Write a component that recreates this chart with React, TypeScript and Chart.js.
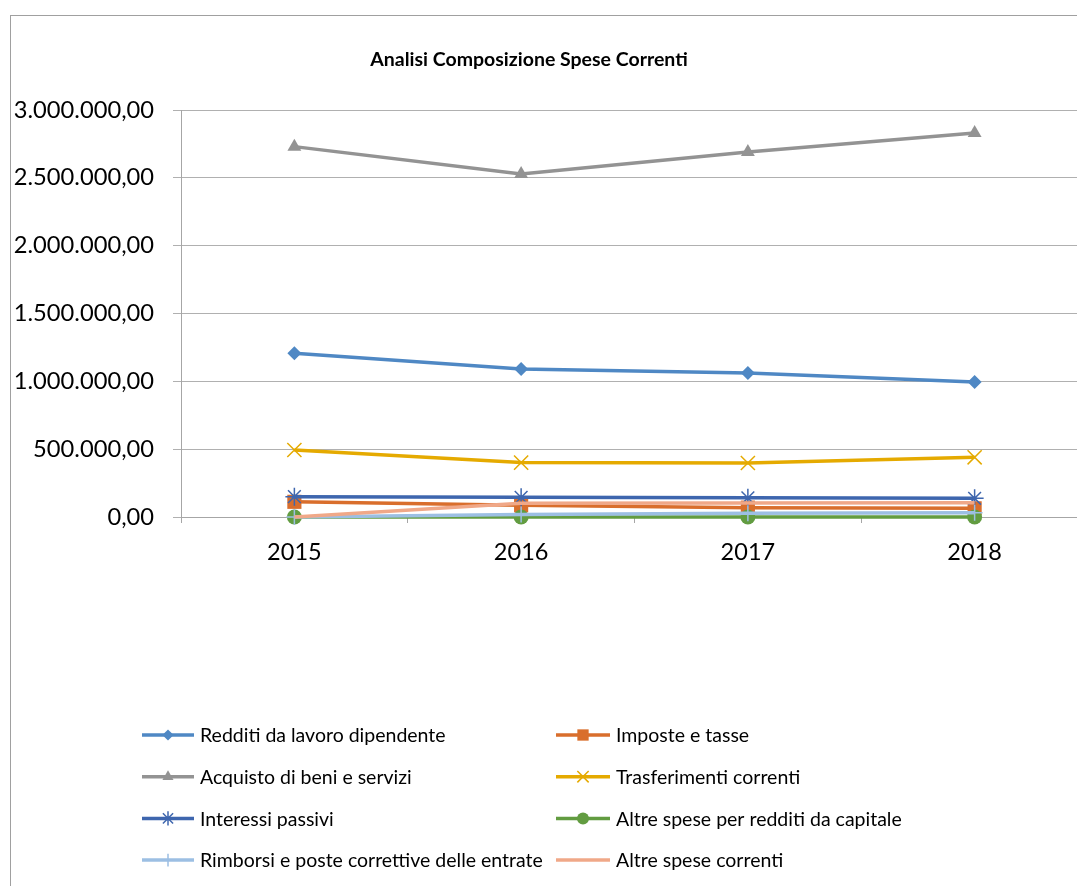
import React, { useEffect, useRef } from "react";
import { Chart, registerables } from "chart.js";
import { drawPoint } from "chart.js/helpers";

Chart.register(...registerables);

const categories = ["2015", "2016", "2017", "2018"];
const seriesNames = [
  "Redditi da lavoro dipendente",
  "Imposte e tasse",
  "Acquisto di beni e servizi",
  "Trasferimenti correnti",
  "Interessi passivi",
  "Altre spese per redditi da capitale",
  "Rimborsi e poste correttive delle entrate",
  "Altre spese correnti",
];
const redditiLavoro = [1207000, 1091000, 1061000, 995000];
const imposteTasse = [112000, 86000, 69000, 64000];
const acquistoBeni = [2730000, 2528000, 2690000, 2830000];
const trasferimenti = [494000, 401000, 398000, 440000];
const interessiPassivi = [150000, 145000, 141000, 138000];
const altreCapitale = [0, 0, 0, 0];
const rimborsi = [0, 18000, 28000, 32000];
const altreCorrenti = [0, 101000, 103000, 105000];
const yTicks = [0, 500000, 1000000, 1500000, 2000000, 2500000, 3000000];
const chartTitle = "Analisi Composizione Spese Correnti";

const seriesValues = [
  redditiLavoro,
  imposteTasse,
  acquistoBeni,
  trasferimenti,
  interessiPassivi,
  altreCapitale,
  rimborsi,
  altreCorrenti,
];

const styles = [
  { color: "#4F88C4", pointStyle: "rectRot", radius: 7, bw: 0 },
  { color: "#D96E2C", pointStyle: "rect", radius: 10, bw: 0 },
  { color: "#939393", pointStyle: "triangle", radius: 8, bw: 0 },
  { color: "#E5AA00", pointStyle: "crossRot", radius: 10, bw: 1.5 },
  { color: "#3E66AE", pointStyle: "star", radius: 9, bw: 1.5 },
  { color: "#629C41", pointStyle: "circle", radius: 7.5, bw: 0 },
  { color: "#9CBFE3", pointStyle: "cross", radius: 8, bw: 1.5 },
  { color: "#F0A888", pointStyle: false as any, radius: 0, bw: 0 },
];

function formatIt(v: number): string {
  const s = Math.round(v).toString().replace(/\B(?=(\d{3})+(?!\d))/g, ".");
  return s + ",00";
}

const titleAndLegend = {
  id: "titleAndLegend",
  afterDraw(chart: any) {
    const ctx = chart.ctx as CanvasRenderingContext2D;
    ctx.save();
    ctx.fillStyle = "#000";
    ctx.font = "bold 19.5px Lato";
    ctx.textAlign = "center";
    ctx.textBaseline = "middle";
    ctx.fillText(chartTitle, 518, 44);
    ctx.restore();

    chart.data.datasets.forEach((ds: any, i: number) => {
      const col = i % 2;
      const row = Math.floor(i / 2);
      const x0 = [131, 545][col];
      const sampleLen = [52, 54][col];
      const y = 719 + row * 41.7;
      ctx.save();
      ctx.strokeStyle = ds.borderColor;
      ctx.lineWidth = 3.5;
      ctx.lineCap = "butt";
      ctx.beginPath();
      ctx.moveTo(x0, y);
      ctx.lineTo(x0 + sampleLen, y);
      ctx.stroke();
      if (ds.pointStyle && ds.pointRadius > 0) {
        ctx.fillStyle = ds.pointBackgroundColor;
        ctx.strokeStyle = ds.pointBorderColor;
        ctx.lineWidth = ds.pointBorderWidth;
        drawPoint(
          ctx,
          {
            pointStyle: ds.pointStyle,
            radius: ds.pointRadius * 0.8,
            rotation: 0,
            borderWidth: ds.pointBorderWidth,
          } as any,
          x0 + sampleLen / 2,
          y
        );
      }
      ctx.fillStyle = "#000";
      ctx.font = "19.5px Lato";
      ctx.textBaseline = "middle";
      ctx.textAlign = "left";
      ctx.fillText(ds.label, x0 + sampleLen + 6, y + 1);
      ctx.restore();
    });
  },
};

export default function App() {
  const ref = useRef<HTMLCanvasElement>(null);
  useEffect(() => {
    if (!ref.current) return;
    const datasets = seriesNames.map((name, i) => {
      const st = styles[i];
      return {
        label: name,
        data: seriesValues[i],
        borderColor: st.color,
        backgroundColor: st.color,
        borderWidth: 3.5,
        pointStyle: st.pointStyle,
        pointRadius: st.radius,
        pointHoverRadius: st.radius,
        pointBackgroundColor: st.color,
        pointBorderColor: st.color,
        pointBorderWidth: st.bw,
        tension: 0,
        clip: false as any,
        order: seriesNames.length - i,
      };
    });
    const chart = new Chart(ref.current, {
      type: "line",
      data: { labels: categories, datasets },
      plugins: [titleAndLegend],
      options: {
        animation: false,
        responsive: false,
        layout: { padding: { left: 0, right: 23, top: 94, bottom: 319 } },
        plugins: {
          legend: { display: false },
          tooltip: { enabled: false },
          title: { display: false },
        },
        scales: {
          x: {
            offset: true,
            grid: {
              display: true,
              offset: true,
              drawOnChartArea: false,
              drawTicks: true,
              tickLength: 6,
              color: "#a6a6a6",
            },
            border: { display: true, color: "#a6a6a6", width: 1 },
            ticks: {
              color: "#000",
              padding: 15,
              font: { family: "Lato", size: 23.5 },
              maxRotation: 0,
            },
            afterFit(scale: any) {
              scale.height = 60;
            },
          },
          y: {
            min: 0,
            max: 3000000,
            afterBuildTicks(scale: any) {
              scale.ticks = yTicks.map((v) => ({ value: v }));
            },
            grid: {
              color: "#b0b0b0",
              drawTicks: true,
              tickLength: 8,
            },
            border: { display: true, color: "#a6a6a6", width: 1 },
            ticks: {
              color: "#000",
              padding: 19,
              font: { family: "Lato", size: 23.7 },
              callback: (v: any) => formatIt(Number(v)),
            },
            afterFit(scale: any) {
              scale.width = 170;
            },
          },
        },
      },
    });
    return () => chart.destroy();
  }, []);

  return (
    <div
      style={{
        position: "fixed",
        inset: 0,
        overflow: "hidden",
        background: "#fff",
      }}
    >
      <div
        style={{
          position: "absolute",
          left: 10,
          top: 15,
          width: 1100,
          height: 900,
          border: "1px solid #a0a0a0",
          background: "#fff",
        }}
      >
        <canvas
          ref={ref}
          width={1100}
          height={880}
          style={{ display: "block", width: 1100, height: 880 }}
        />
      </div>
    </div>
  );
}
